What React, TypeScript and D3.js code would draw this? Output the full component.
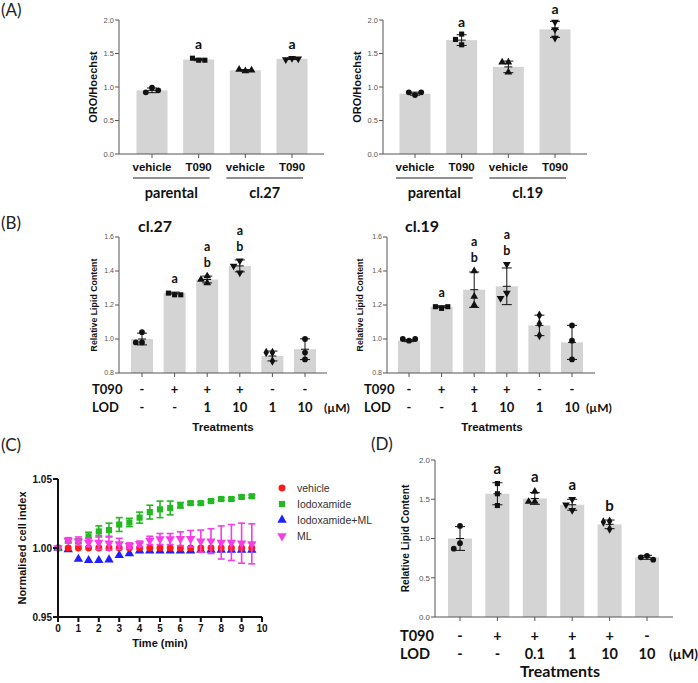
import React from 'react';
import * as d3 from 'd3';

// ---------- Panel A ----------
const aCats = ['vehicle', 'T090', 'vehicle', 'T090'];
const aLeftGroups = ['parental', 'cl.27'];
const aRightGroups = ['parental', 'cl.19'];
const aLeftMeans = [0.95, 1.41, 1.25, 1.42];
const aLeftPts = [[0.99, 0.92, 0.95], [1.40, 1.43, 1.40], [1.24, 1.26, 1.25], [1.43, 1.41, 1.42]];
const aLeftLetters = [[], ['a'], [], ['a']];
const aRightMeans = [0.90, 1.70, 1.30, 1.86];
const aRightPts = [[0.88, 0.92, 0.92], [1.79, 1.71, 1.63], [1.37, 1.37, 1.22], [1.97, 1.86, 1.73]];
const aRightLetters = [[], ['a'], [], ['a']];
const aTicks = [0, 0.5, 1.0, 1.5, 2.0];
const aShapes = ['circle', 'square', 'triangle', 'triangleDown'];

// ---------- Panel B ----------
const bT090 = ['-', '+', '+', '+', '-', '-'];
const bLOD = ['-', '-', '1', '10', '1', '10'];
const b27Means = [1.0, 1.27, 1.35, 1.43, 0.90, 0.94];
const b27Pts = [[1.04, 0.98, 0.98], [1.26, 1.27, 1.26], [1.37, 1.35, 1.33], [1.46, 1.43, 1.39], [0.92, 0.92, 0.87], [1.0, 0.92, 0.88]];
const b27Letters = [[], ['a'], ['a', 'b'], ['a', 'b'], [], []];
const b19Means = [0.99, 1.19, 1.29, 1.31, 1.08, 0.98];
const b19Pts = [[0.99, 1.0, 1.0], [1.18, 1.19, 1.19], [1.40, 1.25, 1.20], [1.44, 1.27, 1.24], [1.14, 1.09, 1.02], [1.08, 0.99, 0.88]];
const b19Letters = [[], ['a'], ['a', 'b'], ['a', 'b'], [], []];
const bTicks = [0.8, 1.0, 1.2, 1.4, 1.6];
const bShapes = ['circle', 'square', 'triangle', 'triangleDown', 'diamond', 'circle'];

// ---------- Panel C ----------
const cTimes = [0, 0.5, 1, 1.5, 2, 2.5, 3, 3.5, 4, 4.5, 5, 5.5, 6, 6.5, 7, 7.5, 8, 8.5, 9, 9.5];
const cVehicle = [1.0, 1.0, 1.0, 1.0, 1.0, 1.0, 1.0, 1.0, 1.0, 1.0, 1.0, 1.0, 1.0, 1.0, 1.0, 1.0, 1.0, 1.0, 1.0, 1.0];
const cVehicleErr = [0, 0.0005, 0.0005, 0.0005, 0.0005, 0.0005, 0.0005, 0.0005, 0.0005, 0.0005, 0.0005, 0.0005, 0.0005, 0.0005, 0.0005, 0.0005, 0.0005, 0.0005, 0.0005, 0.0005];
const cIodox = [1.0, 1.0053, 1.005, 1.0084, 1.012, 1.013, 1.017, 1.0185, 1.022, 1.026, 1.028, 1.029, 1.031, 1.0325, 1.0325, 1.034, 1.0355, 1.0355, 1.037, 1.0375];
const cIodoxErr = [0, 0.001, 0.0015, 0.003, 0.004, 0.005, 0.005, 0.003, 0.004, 0.005, 0.006, 0.005, 0.002, 0.001, 0.001, 0.001, 0.001, 0.001, 0.001, 0.001];
const cIodoxML = [1.0, 0.9988, 0.992, 0.991, 0.991, 0.9915, 0.9947, 0.996, 0.998, 0.998, 0.998, 0.998, 0.998, 0.998, 0.9985, 0.9985, 0.9985, 0.9985, 0.9985, 0.9985];
const cIodoxMLErr = [0, 0.0005, 0.0005, 0.0005, 0.0005, 0.0005, 0.0005, 0.0005, 0.0005, 0.0005, 0.0005, 0.0005, 0.0005, 0.0005, 0.0005, 0.0005, 0.0005, 0.0005, 0.0005, 0.0005];
const cML = [1.0, 1.0055, 1.005, 1.004, 1.004, 1.0035, 1.003, 1.0017, 1.003, 1.0055, 1.0065, 1.0065, 1.0067, 1.0067, 1.005, 1.005, 1.004, 1.004, 1.0035, 1.003];
const cMLErr = [0, 0.002, 0.003, 0.003, 0.005, 0.005, 0.004, 0.002, 0.002, 0.003, 0.004, 0.004, 0.005, 0.006, 0.008, 0.009, 0.012, 0.013, 0.0145, 0.0145];
const cSeriesNames = ['vehicle', 'Iodoxamide', 'Iodoxamide+ML', 'ML'];
const cColors = ['#ff1a1a', '#22b922', '#1f1fff', '#f53ce6'];
const cShapes = ['circle', 'square', 'triangle', 'triangleDown'];
const cXTicks = [0, 1, 2, 3, 4, 5, 6, 7, 8, 9, 10];
const cYTicks = [0.95, 1.0, 1.05];

// ---------- Panel D ----------
const dT090 = ['-', '+', '+', '+', '+', '-'];
const dLOD = ['-', '-', '0.1', '1', '10', '10'];
const dMeans = [1.0, 1.57, 1.51, 1.43, 1.18, 0.76];
const dPts = [[1.16, 0.94, 0.87], [1.70, 1.57, 1.42], [1.60, 1.47, 1.47], [1.50, 1.43, 1.36], [1.22, 1.21, 1.12], [0.78, 0.76, 0.73]];
const dLetters = [[], ['a'], ['a'], ['a'], ['b'], []];
const dTicks = [0, 0.5, 1.0, 1.5, 2.0];
const dShapes = ['circle', 'square', 'triangle', 'triangleDown', 'diamond', 'circle'];

const ARIAL = '"Liberation Sans", Arial, sans-serif';
const CAL = 'Lato, "Open Sans", sans-serif';
const BAR = '#d4d4d4';
const AX = '#555';

const symType: Record<string, any> = {
  circle: d3.symbolCircle,
  square: d3.symbolSquare,
  triangle: d3.symbolTriangle,
  triangleDown: d3.symbolTriangle,
  diamond: d3.symbolDiamond,
};

function Marker({ shape, x, y, size, fill }: any) {
  const p = d3.symbol().type(symType[shape]).size(size)() as string;
  const rot = shape === 'triangleDown' ? ' rotate(180)' : '';
  return <path d={p} transform={`translate(${x},${y})${rot}`} fill={fill} />;
}

function sd(v: number[]) {
  return d3.deviation(v) ?? 0;
}

function jitter(ys: number[], r: number): number[] {
  const placed: { x: number; y: number }[] = [];
  return ys.map((y) => {
    const cands = [0, -2 * r, 2 * r, -4 * r, 4 * r];
    for (const dx of cands) {
      if (placed.every((p) => Math.hypot(p.x - dx, p.y - y) >= 2 * r)) {
        placed.push({ x: dx, y });
        return dx;
      }
    }
    placed.push({ x: 0, y });
    return 0;
  });
}

function BarPanel(props: any) {
  const { means, pts, shapes, letters, ticks, yDomain, yRange, c0, c1, barW, axisX, axisEnd,
    tickSize, letterSize, letterStep, letterGap, ylabel, ylabelX, ylabelSize } = props;
  const y = d3.scaleLinear().domain(yDomain).range(yRange);
  const x = d3.scalePoint<number>().domain(means.map((_: any, i: number) => i)).range([c0, c1]);
  const base = y(yDomain[0]);
  const fmt = d3.format('.1f');
  return (
    <g>
      {means.map((m: number, i: number) => (
        <rect key={'b' + i} x={(x(i) as number) - barW / 2} y={y(m)} width={barW} height={base - y(m)} fill={BAR} />
      ))}
      <line x1={axisX} x2={axisX} y1={y(yDomain[1])} y2={base} stroke={AX} strokeWidth={1} />
      <line x1={axisX} x2={axisEnd} y1={base} y2={base} stroke={AX} strokeWidth={1} />
      {ticks.map((t: number) => (
        <g key={'t' + t}>
          <line x1={axisX - 4} x2={axisX} y1={y(t)} y2={y(t)} stroke={AX} />
          <text x={axisX - 5} y={y(t) + tickSize * 0.35} textAnchor="end" fontSize={tickSize} fill="#555" fontFamily={ARIAL}>{fmt(t)}</text>
        </g>
      ))}
      {means.map((_: any, i: number) => (
        <line key={'xt' + i} x1={x(i)} x2={x(i)} y1={base} y2={base + 4} stroke={AX} />
      ))}
      {means.map((m: number, i: number) => {
        const s = sd(pts[i]);
        const cx = x(i) as number;
        const ys = pts[i].map((v: number) => y(v));
        const off = jitter(ys, 3.1);
        const top = y(m + s);
        return (
          <g key={'e' + i}>
            <line x1={cx} x2={cx} y1={y(m - s)} y2={top} stroke="#111" strokeWidth={1} />
            <line x1={cx - 5} x2={cx + 5} y1={top} y2={top} stroke="#111" strokeWidth={1} />
            <line x1={cx - 5} x2={cx + 5} y1={y(m - s)} y2={y(m - s)} stroke="#111" strokeWidth={1} />
            <line x1={cx - 4} x2={cx + 4} y1={y(m)} y2={y(m)} stroke="#111" strokeWidth={1} />
            {ys.map((yy: number, k: number) => (
              <Marker key={k} shape={shapes[i]} x={cx + off[k]} y={yy} size={26} fill="#111" />
            ))}
            {letters[i].map((L: string, k: number) => (
              <text key={'l' + k} x={cx} y={Math.min(top, ...ys) - letterGap - (letters[i].length - 1 - k) * letterStep}
                textAnchor="middle" fontSize={letterSize} fontWeight="bold" fontFamily={CAL} fill="#111">{L}</text>
            ))}
          </g>
        );
      })}
      <text transform={`translate(${ylabelX},${(y(yDomain[1]) + base) / 2}) rotate(-90)`} textAnchor="middle"
        fontSize={ylabelSize} fontWeight="bold" fontFamily={ARIAL} fill="#111">{ylabel}</text>
    </g>
  );
}

function ALabels({ c0, c1, groups, labelY, lineY, groupY }: any) {
  const x = d3.scalePoint<number>().domain([0, 1, 2, 3]).range([c0, c1]);
  return (
    <g>
      {aCats.map((c, i) => (
        <text key={i} x={x(i)} y={labelY} textAnchor="middle" fontSize={11.5} fontWeight="bold" fontFamily={ARIAL} fill="#111">{c}</text>
      ))}
      {groups.map((g: string, j: number) => {
        const xa = (x(j * 2) as number) - 19;
        const xb = (x(j * 2 + 1) as number) + 11;
        return (
          <g key={g + j}>
            <line x1={xa} x2={xb} y1={lineY} y2={lineY} stroke="#222" strokeWidth={1.2} />
            <text x={(xa + xb) / 2} y={groupY} textAnchor="middle" fontSize={14.5} fontWeight="bold" fontFamily={CAL} fill="#111">{g}</text>
          </g>
        );
      })}
    </g>
  );
}

function TreatRows({ c0, c1, t090, lod, labelX, row1, row2, size, umX, treatX, treatY, treatSize, treatFont }: any) {
  const x = d3.scalePoint<number>().domain(t090.map((_: any, i: number) => i)).range([c0, c1]);
  return (
    <g fontFamily={CAL} fontWeight="bold" fill="#111">
      <text x={labelX} y={row1} fontSize={size}>T090</text>
      <text x={labelX} y={row2} fontSize={size}>LOD</text>
      {t090.map((v: string, i: number) => (
        <text key={'a' + i} x={x(i)} y={row1} textAnchor="middle" fontSize={size}>{v}</text>
      ))}
      {lod.map((v: string, i: number) => (
        <text key={'b' + i} x={x(i)} y={row2} textAnchor="middle" fontSize={size}>{v}</text>
      ))}
      <text x={umX} y={row2} fontSize={size - 1}>(µM)</text>
      <text x={treatX} y={treatY} textAnchor="middle" fontSize={treatSize} fontFamily={treatFont}>Treatments</text>
    </g>
  );
}

function PanelC() {
  const x = d3.scaleLinear().domain([0, 10]).range([58, 262]);
  const y = d3.scaleLinear().domain([0.95, 1.05]).range([617, 479]);
  const series = [
    { v: cVehicle, e: cVehicleErr },
    { v: cIodox, e: cIodoxErr },
    { v: cIodoxML, e: cIodoxMLErr },
    { v: cML, e: cMLErr },
  ];
  const order = [2, 0, 1, 3];
  return (
    <g>
      {order.map((si) => (
        <g key={si}>
          {cTimes.map((t, i) => {
            const v = series[si].v[i];
            const e = series[si].e[i];
            const cx = x(t);
            return (
              <g key={i}>
                {e > 0.0008 && (
                  <g stroke={cColors[si]} strokeWidth={1.6}>
                    <line x1={cx} x2={cx} y1={y(v - e)} y2={y(v + e)} />
                    <line x1={cx - 3.5} x2={cx + 3.5} y1={y(v + e)} y2={y(v + e)} />
                    <line x1={cx - 3.5} x2={cx + 3.5} y1={y(v - e)} y2={y(v - e)} />
                  </g>
                )}
                <Marker shape={cShapes[si]} x={cx} y={y(v)} size={38} fill={cColors[si]} />
              </g>
            );
          })}
        </g>
      ))}
      <line x1={58} x2={58} y1={479} y2={618} stroke="#111" strokeWidth={2} />
      <line x1={57} x2={262} y1={617} y2={617} stroke="#111" strokeWidth={2} />
      {cYTicks.map((t) => (
        <g key={t}>
          <line x1={53} x2={58} y1={y(t)} y2={y(t)} stroke="#111" strokeWidth={2} />
          <text x={52} y={y(t) + 3.5} textAnchor="end" fontSize={10} fontWeight="bold" fontFamily={ARIAL} fill="#111">{d3.format('.2f')(t)}</text>
        </g>
      ))}
      {cXTicks.map((t) => (
        <g key={t}>
          <line x1={x(t)} x2={x(t)} y1={617} y2={622} stroke="#111" strokeWidth={2} />
          <text x={x(t)} y={632} textAnchor="middle" fontSize={10} fontWeight="bold" fontFamily={ARIAL} fill="#111">{t}</text>
        </g>
      ))}
      <text x={160} y={647} textAnchor="middle" fontSize={11} fontWeight="bold" fontFamily={ARIAL} fill="#111">Time (min)</text>
      <text transform="translate(26,548) rotate(-90)" textAnchor="middle" fontSize={11} fontWeight="bold" fontFamily={ARIAL} fill="#111">Normalised cell index</text>
      {cSeriesNames.map((n, i) => (
        <g key={n}>
          <Marker shape={cShapes[i]} x={282} y={488 + i * 16} size={38} fill={cColors[i]} />
          <text x={297} y={488 + i * 16 + 4} fontSize={10.5} fontFamily={ARIAL} fill="#333">{n}</text>
        </g>
      ))}
    </g>
  );
}

export default function App() {
  return (
    <svg width={698} height={683} style={{ position: 'absolute', left: 0, top: 0, background: '#fff' }}>
      <rect width={698} height={683} fill="#fff" />
      <g fontFamily={CAL} fontSize={17} fill="#222">
        <text x={1} y={16}>(A)</text>
        <text x={1} y={229}>(B)</text>
        <text x={1} y={451}>(C)</text>
        <text x={371} y={450}>(D)</text>
      </g>

      <BarPanel means={aLeftMeans} pts={aLeftPts} shapes={aShapes} letters={aLeftLetters} ticks={aTicks}
        yDomain={[0, 2]} yRange={[154, 20]} c0={152} c1={292} barW={31} axisX={119} axisEnd={324}
        tickSize={7.5} letterSize={14} letterStep={16} letterGap={9} ylabel="ORO/Hoechst" ylabelX={97} ylabelSize={11} />
      <ALabels c0={152} c1={292} groups={aLeftGroups} labelY={171} lineY={178} groupY={198} />

      <BarPanel means={aRightMeans} pts={aRightPts} shapes={aShapes} letters={aRightLetters} ticks={aTicks}
        yDomain={[0, 2]} yRange={[154, 20]} c0={415} c1={555} barW={31} axisX={383} axisEnd={587}
        tickSize={7.5} letterSize={14} letterStep={16} letterGap={7} ylabel="ORO/Hoechst" ylabelX={361} ylabelSize={11} />
      <ALabels c0={415} c1={555} groups={aRightGroups} labelY={171} lineY={178} groupY={198} />

      <text x={155} y={232} textAnchor="middle" fontSize={16} fontWeight="bold" fontFamily={CAL} fill="#111">cl.27</text>
      <BarPanel means={b27Means} pts={b27Pts} shapes={bShapes} letters={b27Letters} ticks={bTicks}
        yDomain={[0.8, 1.6]} yRange={[373, 237]} c0={142} c1={305} barW={22} axisX={119} axisEnd={327}
        tickSize={7} letterSize={12.5} letterStep={16} letterGap={9} ylabel="Relative Lipid Content" ylabelX={97} ylabelSize={8.8} />
      <TreatRows c0={142} c1={305} t090={bT090} lod={bLOD} labelX={92} row1={394} row2={412} size={13}
        umX={324} treatX={223} treatY={431} treatSize={11.5} treatFont={ARIAL} />

      <text x={422} y={232} textAnchor="middle" fontSize={16} fontWeight="bold" fontFamily={CAL} fill="#111">cl.19</text>
      <BarPanel means={b19Means} pts={b19Pts} shapes={bShapes} letters={b19Letters} ticks={bTicks}
        yDomain={[0.8, 1.6]} yRange={[373, 237]} c0={409} c1={572} barW={22} axisX={387} axisEnd={595}
        tickSize={7} letterSize={12.5} letterStep={16} letterGap={9} ylabel="Relative Lipid Content" ylabelX={363} ylabelSize={8.8} />
      <TreatRows c0={409} c1={572} t090={bT090} lod={bLOD} labelX={364} row1={394} row2={412} size={13}
        umX={586} treatX={492} treatY={431} treatSize={11.5} treatFont={ARIAL} />

      <PanelC />

      <BarPanel means={dMeans} pts={dPts} shapes={dShapes} letters={dLetters} ticks={dTicks}
        yDomain={[0, 2]} yRange={[617, 460]} c0={460} c1={647} barW={24} axisX={435} axisEnd={673}
        tickSize={8} letterSize={15} letterStep={16} letterGap={9} ylabel="Relative Lipid Content" ylabelX={409} ylabelSize={10.2} />
      <TreatRows c0={460} c1={647} t090={dT090} lod={dLOD} labelX={400} row1={641} row2={659} size={14.5}
        umX={669} treatX={560} treatY={677} treatSize={16} treatFont={CAL} />
    </svg>
  );
}
